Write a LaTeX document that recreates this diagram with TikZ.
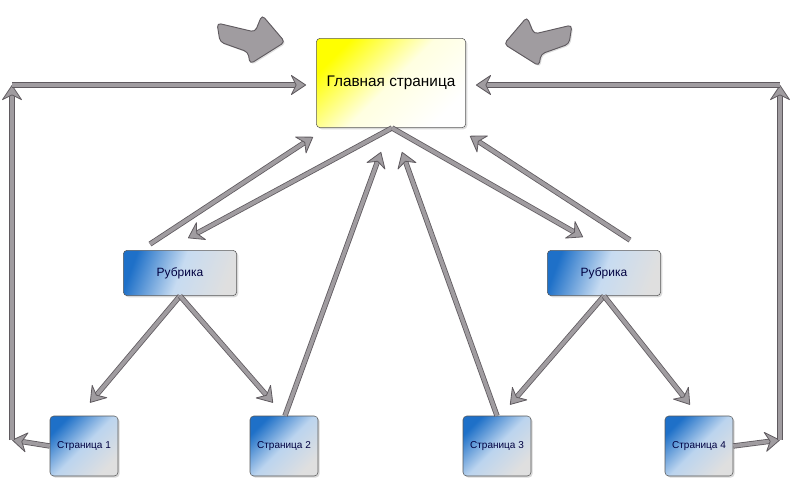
\documentclass[tikz,border=0pt]{standalone}
\usepackage{fontspec}
\setmainfont{Liberation Sans}
\usetikzlibrary{calc,shadows,arrows.meta}
\definecolor{Link}{RGB}{160,156,160}
\definecolor{LinkBorder}{RGB}{95,90,95}
\definecolor{Blue1}{RGB}{30,112,200}
\colorlet{Yellow1}{yellow}
\tikzset{
	box/.style={rectangle, rounded corners=1mm, draw=gray!70!black, thin, drop shadow={shadow xshift=1.2pt, shadow yshift=-1.2pt, opacity=0.3}},
	mainpage/.style={box, minimum width=112pt, minimum height=67pt, top color=Yellow1, bottom color=white, middle color=yellow!12, shading angle=45, font=\fontsize{11.5}{13}\selectfont},
	rubric/.style={box, minimum width=85pt, minimum height=34pt, top color=Blue1, bottom color=gray!25, middle color=Blue1!25, shading angle=70, text=blue!25!black, font=\fontsize{9}{11}\selectfont},
	page/.style={box, minimum width=51pt, minimum height=45pt, top color=Blue1, bottom color=gray!25, middle color=Blue1!30, shading angle=45, text=blue!25!black, font=\fontsize{7.5}{9}\selectfont},
	link/.style={draw=LinkBorder, line width=0.6pt, double=Link, double distance=2.8pt, -{Stealth[length=12pt, width=16pt, inset=4pt, round, fill=Link]}},
	bigarrow/.style={draw=LinkBorder, fill=Link, line width=0.7pt, rounded corners=3pt, drop shadow={shadow xshift=1pt, shadow yshift=-1pt, opacity=0.25}},
}

\begin{document}
\begin{tikzpicture}[x=0.75pt, y=-0.75pt]
	\useasboundingbox (0,0) rectangle (800,480);
	\node (main) [mainpage] at (391,83) {Главная страница};
	\node (rub1) [rubric] at (180,273) {Рубрика};
	\node (rub2) [rubric] at (604,273) {Рубрика};
	\node (pg1) [page] at (84,446) {Страница 1};
	\node (pg2) [page] at (284,446) {Страница 2};
	\node (pg3) [page] at (497,446) {Страница 3};
	\node (pg4) [page] at (699,446) {Страница 4};
	\coordinate (c1) at (12,440);
	\coordinate (c2) at (12,85);
	\coordinate (c3) at (780,440);
	\coordinate (c4) at (780,85);
	% big arrows at the top
	\draw [bigarrow] (217,23) -- (255,32) -- (262,15) -- (285,42) -- (250,64) -- (248,52) -- (220,42) -- cycle;
	\draw [bigarrow] (572,25) -- (534,34) -- (527,17) -- (504,44) -- (539,66) -- (541,54) -- (569,44) -- cycle;
	% main page and rubrics
	\draw [link] ($(rub1.north)+(-30,-6)$) -- ($(main.south west)+(-3,9)$);
	\draw [link] ($(main.south)+(1,0)$) -- ($(rub1.north)+(8,-12)$);
	\draw [link] ($(main.south)+(1,0)$) -- ($(rub2.north)+(-21,-13)$);
	\draw [link] ($(rub2.north)+(26,-10)$) -- ($(main.south east)+(4,8)$);
	\draw [link] ($(pg2.north)+(1,0)$) -- ($(main.south)+(-10,24)$);
	\draw [link] (pg3.north) -- ($(main.south)+(11,24)$);
	% rubrics and pages
	\draw [link] (rub1.south) -- ($(pg1.north)+(6,-13)$);
	\draw [link] (rub1.south) -- ($(pg2.north)+(-11,-13)$);
	\draw [link] (rub2.south) -- ($(pg3.north)+(13,-11)$);
	\draw [link] (rub2.south) -- ($(pg4.north)+(-9,-11)$);
	% back to the main page
	\draw [link] (pg1.west) -- (c1);
	\draw [link] (c1) -- (c2);
	\draw [link] (c2) -- ($(main.west)+(-10,2)$);
	\draw [link] (pg4.east) -- (c3);
	\draw [link] (c3) -- (c4);
	\draw [link] (c4) -- ($(main.east)+(10,2)$);
\end{tikzpicture}
\end{document}
